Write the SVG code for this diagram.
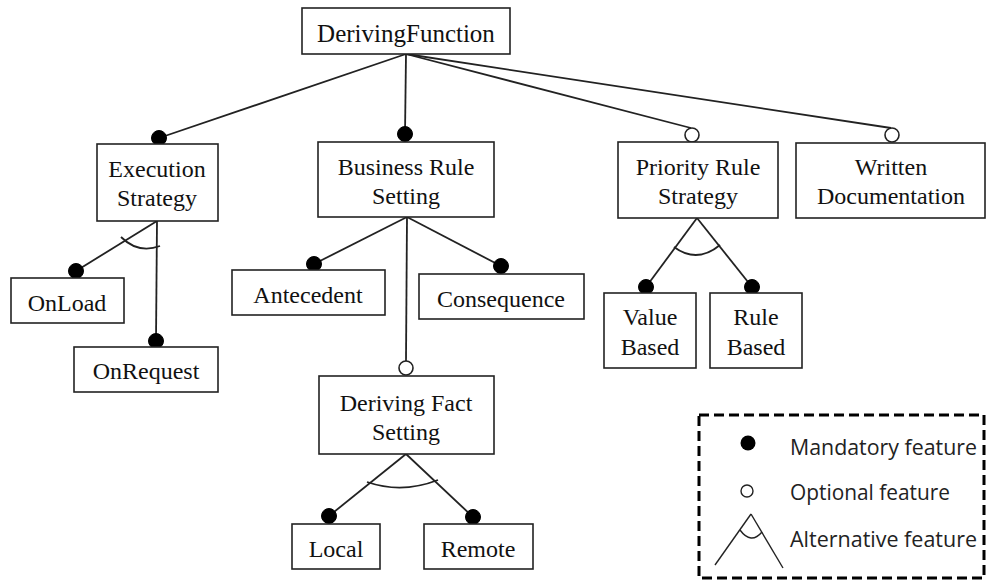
<svg xmlns="http://www.w3.org/2000/svg" width="987" height="581" viewBox="0 0 987 581">
  <style>
    .box { fill: #ffffff; stroke: #222222; stroke-width: 1.6; }
    .lbl { font-family: "Liberation Serif", "Times New Roman", serif; font-size: 24px; fill: #111111; text-anchor: middle; }
    .edge { fill: none; stroke: #222222; stroke-width: 1.8; }
    .mand { fill: #000000; stroke: #000000; stroke-width: 1; }
    .opt { fill: #ffffff; stroke: #222222; stroke-width: 1.6; }
    .leg { font-family: "Open Sans", "Liberation Sans", sans-serif; font-size: 21px; fill: #222222; }
  </style>

  <!-- connectors -->
  <g id="connectors">
    <line class="edge" x1="406" y1="54" x2="159" y2="138"/>
    <line class="edge" x1="406" y1="54" x2="405" y2="134"/>
    <line class="edge" x1="406" y1="54" x2="691" y2="128"/>
    <line class="edge" x1="406" y1="54" x2="891" y2="128"/>

    <line class="edge" x1="157" y1="221" x2="76" y2="271"/>
    <line class="edge" x1="157" y1="221" x2="156" y2="341"/>
    <path class="edge" d="M121,237 Q138,254 160,246"/>

    <line class="edge" x1="407" y1="217" x2="314" y2="264"/>
    <line class="edge" x1="407" y1="217" x2="501" y2="266"/>
    <line class="edge" x1="407" y1="217" x2="406" y2="361"/>

    <line class="edge" x1="697" y1="218" x2="646" y2="287"/>
    <line class="edge" x1="697" y1="218" x2="752" y2="287"/>
    <path class="edge" d="M674,247 Q697,264 720,245"/>

    <line class="edge" x1="406" y1="454" x2="329" y2="516"/>
    <line class="edge" x1="406" y1="454" x2="473" y2="517"/>
    <path class="edge" d="M367,482 Q402,494 438,480"/>

    <!-- feature markers -->
    <circle class="mand" cx="159" cy="138" r="7.5"/>
    <circle class="mand" cx="405" cy="134" r="7.5"/>
    <circle class="opt" cx="692" cy="135" r="7"/>
    <circle class="opt" cx="892" cy="135" r="7"/>
    <circle class="mand" cx="76" cy="271" r="7.5"/>
    <circle class="mand" cx="156" cy="341" r="7.5"/>
    <circle class="mand" cx="314" cy="264" r="7.5"/>
    <circle class="mand" cx="501" cy="266" r="7.5"/>
    <circle class="opt" cx="406" cy="368" r="7"/>
    <circle class="mand" cx="646" cy="287" r="7.5"/>
    <circle class="mand" cx="752" cy="287" r="7.5"/>
    <circle class="mand" cx="329" cy="516" r="7.5"/>
    <circle class="mand" cx="473" cy="517" r="7.5"/>
  </g>

  <g id="deriving-function">
    <rect class="box" x="302" y="8" width="208" height="46"/>
    <text class="lbl" x="406" y="42" style="font-size:25px">DerivingFunction</text>
  </g>

  <g id="execution-strategy">
    <rect class="box" x="97" y="144" width="121" height="77"/>
    <text class="lbl" x="157" y="177">Execution</text>
    <text class="lbl" x="157" y="206">Strategy</text>
  </g>

  <g id="business-rule-setting">
    <rect class="box" x="318" y="142" width="176" height="75"/>
    <text class="lbl" x="406" y="175">Business Rule</text>
    <text class="lbl" x="406" y="204">Setting</text>
  </g>

  <g id="priority-rule-strategy">
    <rect class="box" x="618" y="142" width="160" height="76"/>
    <text class="lbl" x="698" y="175">Priority Rule</text>
    <text class="lbl" x="698" y="204">Strategy</text>
  </g>

  <g id="written-documentation">
    <rect class="box" x="796" y="143" width="189" height="75"/>
    <text class="lbl" x="891" y="175">Written</text>
    <text class="lbl" x="891" y="204">Documentation</text>
  </g>

  <g id="on-load">
    <rect class="box" x="11" y="278" width="113" height="45"/>
    <text class="lbl" x="67" y="311">OnLoad</text>
  </g>

  <g id="on-request">
    <rect class="box" x="74" y="347" width="144" height="45"/>
    <text class="lbl" x="146" y="379">OnRequest</text>
  </g>

  <g id="antecedent">
    <rect class="box" x="232" y="270" width="153" height="45"/>
    <text class="lbl" x="308" y="303">Antecedent</text>
  </g>

  <g id="consequence">
    <rect class="box" x="419" y="274" width="165" height="45"/>
    <text class="lbl" x="501" y="307">Consequence</text>
  </g>

  <g id="deriving-fact-setting">
    <rect class="box" x="319" y="376" width="175" height="78"/>
    <text class="lbl" x="406" y="411">Deriving Fact</text>
    <text class="lbl" x="406" y="440">Setting</text>
  </g>

  <g id="value-based">
    <rect class="box" x="604" y="293" width="92" height="75"/>
    <text class="lbl" x="650" y="325">Value</text>
    <text class="lbl" x="650" y="355">Based</text>
  </g>

  <g id="rule-based">
    <rect class="box" x="710" y="293" width="92" height="75"/>
    <text class="lbl" x="756" y="325">Rule</text>
    <text class="lbl" x="756" y="355">Based</text>
  </g>

  <g id="local">
    <rect class="box" x="292" y="524" width="88" height="45"/>
    <text class="lbl" x="336" y="557">Local</text>
  </g>

  <g id="remote">
    <rect class="box" x="424" y="524" width="109" height="45"/>
    <text class="lbl" x="478" y="557">Remote</text>
  </g>

  <!-- legend -->
  <g id="legend">
    <rect x="699" y="415" width="285" height="163" fill="none" stroke="#000000" stroke-width="3" stroke-dasharray="10 5"/>
    <circle cx="748" cy="443" r="7.5" fill="#000000"/>
    <text class="leg" x="790" y="455" textLength="187" lengthAdjust="spacingAndGlyphs">Mandatory feature</text>
    <circle cx="747" cy="491" r="6" fill="#ffffff" stroke="#222222" stroke-width="1.4"/>
    <text class="leg" x="790" y="500" textLength="160" lengthAdjust="spacingAndGlyphs">Optional feature</text>
    <line class="edge" x1="751" y1="514" x2="715" y2="565" style="stroke-width:1.4"/>
    <line class="edge" x1="751" y1="514" x2="783" y2="568" style="stroke-width:1.4"/>
    <path class="edge" d="M740,530 Q751,545 762,532" style="stroke-width:1.4"/>
    <text class="leg" x="790" y="547" textLength="187" lengthAdjust="spacingAndGlyphs">Alternative feature</text>
  </g>
</svg>
